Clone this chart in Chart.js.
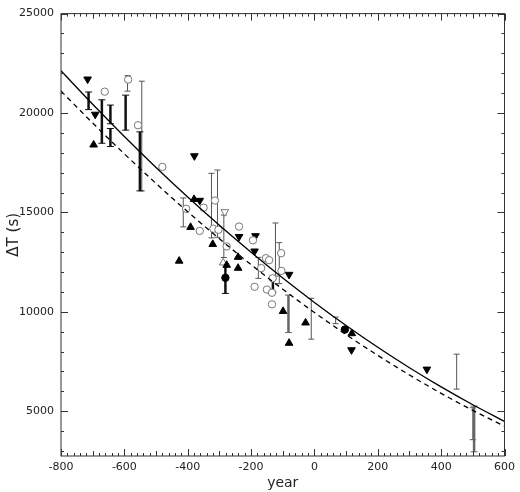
<!DOCTYPE html>
<html>
<head>
<meta charset="utf-8">
<script src="https://cdn.jsdelivr.net/npm/chart.js@4.4.0/dist/chart.umd.min.js"></script>
<style>
  html, body { margin: 0; padding: 0; background: #fff; }
  #wrap { width: 520px; height: 492px; }
</style>
</head>
<body>
<div id="wrap"><canvas id="chart" width="520" height="492"></canvas></div>
<script>
// fitted curves (every 100 years)
const curveYears = [-800, -700, -600, -500, -400, -300, -200, -100, 0, 100, 200, 300, 400, 500, 600];
const solidCurve = [22125, 20439, 18819, 17264, 15775, 14352, 12994, 11701, 10475, 9314, 8218, 7188, 6224, 5325, 4492];
const dashedCurve = [21106, 19494, 17945, 16458, 15034, 13673, 12375, 11140, 9967, 8857, 7809, 6824, 5902, 5043, 4247];

// open circles
const circleYears = [-662, -588, -557, -480, -405, -350, -314, -362, -319, -303, -277, -238, -194, -168, -153, -143, -189, -150, -132, -134, -134, -105, -104];
const circleValues = [21074, 21680, 19384, 17290, 15183, 15240, 15600, 14070, 14180, 14128, 13290, 14290, 13600, 12200, 12700, 12600, 11260, 11120, 11690, 10960, 10380, 12950, 12060];

// filled triangles
const upYears = [-697, -380, -391, -427, -321, -277, -241, -241, -99, -80, -28, 118];
const upValues = [18400, 15660, 14257, 12558, 13400, 12350, 12750, 12200, 10030, 8429, 9450, 8911];
const downYears = [-716, -692, -379, -362, -238, -186, -189, -80, 117, 355];
const downValues = [21700, 19930, 17840, 15600, 13780, 13820, 13050, 11877, 8084, 7110];

// single special markers
const openUpYears = [-288];
const openUpValues = [12470];
const openDownYears = [-283];
const openDownValues = [15030];
const dotYears = [-281, 96];
const dotValues = [11714, 9109];

// error bars: year, low, high
const thinBarYears = [-590, -545, -414, -325, -306, -286, -177, -123, -111, -10, 67, 449, 500];
const thinBarLow = [21100, 16084, 14272, 13720, 13750, 12734, 11683, 11800, 11420, 8626, 9406, 6113, 3571];
const thinBarHigh = [21880, 21600, 15728, 16966, 17133, 14867, 12738, 14470, 13480, 10680, 9738, 7872, 5177];

const thickBarYears = [-713, -671, -644, -644, -596, -551, -281, -131];
const thickBarLow = [20172, 18478, 19460, 18315, 19138, 16084, 10926, 11000];
const thickBarHigh = [21060, 20665, 20400, 19220, 20897, 19054, 12404, 11650];

const greyBarYears = [-82, 504];
const greyBarLow = [8956, 2961];
const greyBarHigh = [10842, 5261];

const xTickValues = [-800, -600, -400, -200, 0, 200, 400, 600];
const yTickValues = [5000, 10000, 15000, 20000, 25000];

function pts(xs, ys) {
    return xs.map((x, i) => ({ x: x, y: ys[i] }));
}

// error bars drawn through the chart scales
const errorBarPlugin = {
    id: "errorBars",
    beforeDatasetsDraw(chart) {
        const { ctx, chartArea, scales } = chart;
        ctx.save();
        ctx.beginPath();
        ctx.rect(chartArea.left, chartArea.top, chartArea.right - chartArea.left, chartArea.bottom - chartArea.top);
        ctx.clip();
        function draw(years, lows, highs, color, width, cap) {
            ctx.strokeStyle = color;
            years.forEach((yr, i) => {
                const px = scales.x.getPixelForValue(yr);
                const lo = scales.y.getPixelForValue(lows[i]);
                const hi = scales.y.getPixelForValue(highs[i]);
                ctx.lineWidth = width;
                ctx.beginPath();
                ctx.moveTo(px, lo);
                ctx.lineTo(px, hi);
                ctx.stroke();
                ctx.lineWidth = 1;
                ctx.beginPath();
                ctx.moveTo(px - cap, lo); ctx.lineTo(px + cap, lo);
                ctx.moveTo(px - cap, hi); ctx.lineTo(px + cap, hi);
                ctx.stroke();
            });
        }
        draw(thinBarYears, thinBarLow, thinBarHigh, "#555", 1, 3);
        draw(greyBarYears, greyBarLow, greyBarHigh, "#666", 2.5, 3.5);
        draw(thickBarYears, thickBarLow, thickBarHigh, "#111", 2.5, 3.5);
        ctx.restore();
    }
};

// frame with inward ticks on all four sides
const framePlugin = {
    id: "frame",
    afterDraw(chart) {
        const { ctx, chartArea: a, scales } = chart;
        ctx.save();
        ctx.strokeStyle = "#333";
        ctx.lineWidth = 1;
        ctx.strokeRect(a.left, a.top, a.right - a.left, a.bottom - a.top);
        ctx.beginPath();
        for (let v = -800; v <= 600; v += 20) {
            const px = Math.round(scales.x.getPixelForValue(v)) + 0.5;
            const len = v % 200 === 0 ? 7 : (v % 100 === 0 ? 5 : 3);
            ctx.moveTo(px, a.bottom); ctx.lineTo(px, a.bottom - len);
            ctx.moveTo(px, a.top); ctx.lineTo(px, a.top + len);
        }
        for (let v = 3000; v <= 25000; v += 1000) {
            const py = Math.round(scales.y.getPixelForValue(v)) + 0.5;
            const len = v % 5000 === 0 ? 7 : 3;
            ctx.moveTo(a.left, py); ctx.lineTo(a.left + len, py);
            ctx.moveTo(a.right, py); ctx.lineTo(a.right - len, py);
        }
        ctx.stroke();
        ctx.restore();
    }
};

const markerBase = { type: "scatter", showLine: false, pointBorderWidth: 1 };

new Chart(document.getElementById("chart"), {
    type: "scatter",
    data: {
        datasets: [
            {
                type: "line", label: "fit", data: pts(curveYears, solidCurve),
                borderColor: "#000", borderWidth: 1.3, pointRadius: 0,
                cubicInterpolationMode: "monotone", fill: false
            },
            {
                type: "line", label: "fit2", data: pts(curveYears, dashedCurve),
                borderColor: "#000", borderWidth: 1.3, borderDash: [5, 4], pointRadius: 0,
                cubicInterpolationMode: "monotone", fill: false
            },
            Object.assign({}, markerBase, {
                label: "circles", data: pts(circleYears, circleValues),
                pointStyle: "circle", pointRadius: 3.7,
                backgroundColor: "#fff", borderColor: "#777"
            }),
            Object.assign({}, markerBase, {
                label: "up", data: pts(upYears, upValues),
                pointStyle: "triangle", pointRadius: 4.4,
                backgroundColor: "#000", borderColor: "#000"
            }),
            Object.assign({}, markerBase, {
                label: "down", data: pts(downYears, downValues),
                pointStyle: "triangle", pointRotation: 180, pointRadius: 4.4,
                backgroundColor: "#000", borderColor: "#000"
            }),
            Object.assign({}, markerBase, {
                label: "openUp", data: pts(openUpYears, openUpValues),
                pointStyle: "triangle", pointRadius: 4.4,
                backgroundColor: "#fff", borderColor: "#777"
            }),
            Object.assign({}, markerBase, {
                label: "openDown", data: pts(openDownYears, openDownValues),
                pointStyle: "triangle", pointRotation: 180, pointRadius: 4.4,
                backgroundColor: "#fff", borderColor: "#777"
            }),
            Object.assign({}, markerBase, {
                label: "dots", data: pts(dotYears, dotValues),
                pointStyle: "circle", pointRadius: 3.7,
                backgroundColor: "#000", borderColor: "#000"
            })
        ]
    },
    options: {
        responsive: false,
        animation: false,
        events: [],
        layout: { padding: { top: 4, right: 8, left: 0, bottom: 0 } },
        plugins: { legend: { display: false }, tooltip: { enabled: false } },
        scales: {
            x: {
                type: "linear", min: -800, max: 600,
                grid: { display: false, drawTicks: false },
                border: { display: false },
                afterBuildTicks: (s) => { s.ticks = xTickValues.map(v => ({ value: v })); },
                afterFit: (s) => { s.height = 36; },
                ticks: { color: "#222", padding: 5, maxRotation: 0, font: { family: "DejaVu Sans", size: 11 }, callback: (v) => String(v) },
                title: { display: true, text: "year", color: "#222", padding: { top: 0, bottom: 0 }, font: { family: "DejaVu Sans", size: 14 } }
            },
            y: {
                type: "linear", min: 2750, max: 25000,
                grid: { display: false, drawTicks: false },
                border: { display: false },
                afterBuildTicks: (s) => { s.ticks = yTickValues.map(v => ({ value: v })); },
                afterFit: (s) => { s.width = 61; },
                ticks: { color: "#222", padding: 7, font: { family: "DejaVu Sans", size: 11 }, callback: (v) => String(v) },
                title: { display: true, text: "ΔT (s)", color: "#222", padding: { top: 5, bottom: 0 }, font: { family: "DejaVu Sans", size: 15 } }
            }
        }
    },
    plugins: [errorBarPlugin, framePlugin]
});
</script>
</body>
</html>
